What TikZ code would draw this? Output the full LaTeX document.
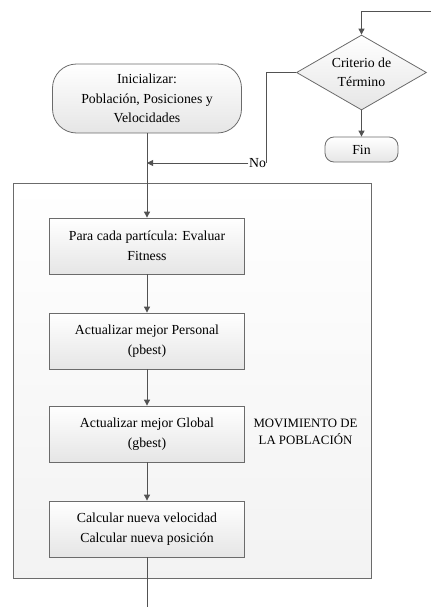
\documentclass[tikz,border=0pt]{standalone}
\usepackage{fontspec}
\setmainfont{Liberation Serif}
\usetikzlibrary{arrows.meta,shapes.geometric}
\begin{document}
\begin{tikzpicture}[x=1pt,y=-1pt,
  font=\fontsize{13.8}{19.5}\selectfont,
  line/.style={draw=black!68, line width=0.9pt},
  arr/.style={line, -{Triangle[length=6pt,width=6pt]}},
  shaded/.style={draw=black!58, line width=0.8pt, top color=white, bottom color=black!10,
    align=center, inner sep=0pt},
  stepbox/.style={shaded, minimum width=195pt, minimum height=56pt},
  terminal/.style={shaded, rounded corners=#1},
  decision/.style={shaded, shape=diamond, aspect=1.73, minimum width=130pt, minimum height=75pt},
  group/.style={draw=black!58, line width=0.8pt, top color=white, bottom color=black!5, inner sep=0pt}
]
\useasboundingbox (0,0) rectangle (431,607);

% loop body container
\node[group, minimum width=358pt, minimum height=395pt] (grp) at (192,380.5) {};
\node[align=center, font=\fontsize{12.8}{17}\selectfont] (lbl) at (305.5,431.5)
  {MOVIMIENTO DE\\LA POBLACIÓN};

% nodes
\node[terminal=24pt, minimum width=189pt, minimum height=69pt] (init) at (147,98.5)
  {Inicializar:\\Población, Posiciones y\\Velocidades};
\node[decision] (crit) at (361.5,72.5) {Criterio de\\Término};
\node[terminal=9pt, minimum width=73pt, minimum height=25pt] (fin) at (361.5,149.5) {Fin};

\node[stepbox] (p1) at (147,246) {Para cada partícula: Evaluar\\Fitness};
\node[stepbox] (p2) at (147,341) {Actualizar mejor Personal\\(pbest)};
\node[stepbox] (p3) at (147,434) {Actualizar mejor Global\\(gbest)};
\node[stepbox] (p4) at (147,529) {Calcular nueva velocidad\\Calcular nueva posición};

\node[inner sep=0.5pt] (no) at (257.5,163) {No};

% free ends and junction
\coordinate (loopin) at (431,11);
\coordinate (merge) at (147,163);
\coordinate (exit) at (147,607);

% connectors
\draw[arr] (loopin) -| (crit.north);
\draw[arr] (crit.south) -- (fin.north);
\draw[line] (crit.west) -| (no.east);
\draw[arr] (no.west) -- (merge);
\draw[arr] (init.south) -- (p1.north);
\draw[arr] (p1.south) -- (p2.north);
\draw[arr] (p2.south) -- (p3.north);
\draw[arr] (p3.south) -- (p4.north);
\draw[line] (p4.south) -- (exit);
\end{tikzpicture}
\end{document}
